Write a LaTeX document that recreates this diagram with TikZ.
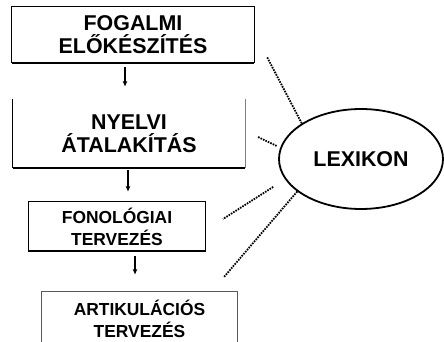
\documentclass[tikz,border=0pt]{standalone}
\usepackage{fontspec}
\setmainfont{Liberation Sans}
\usetikzlibrary{shapes.geometric,arrows.meta}

\begin{document}
\begin{tikzpicture}[x=1pt, y=-1pt,
    stage/.style={align=center, inner sep=0pt, font=\fontsize{21.4}{23}\selectfont\bfseries},
    smallstage/.style={stage, font=\fontsize{17.4}{22}\selectfont\bfseries},
    arr/.style={line width=1.6pt, -{Latex[length=5.5pt,width=5pt]}},
    dotline/.style={line width=1.8pt, dash pattern=on 1.6pt off 1.1pt}]
  \useasboundingbox (0,0) rectangle (444,342);
  \coordinate (bottom) at (0,342);

  \node [stage, minimum width=242pt, minimum height=56pt] (fogalmi) at (133,35) {FOGALMI\\ELŐKÉSZÍTÉS};
  \node [stage, minimum width=232pt, minimum height=69pt] (nyelvi) at (129,133.5) {NYELVI\\ÁTALAKÍTÁS};
  \node [smallstage, minimum width=176pt, minimum height=49pt] (fonologiai) at (117,226.5) {FONOLÓGIAI\\TERVEZÉS};
  \node [smallstage, minimum width=195pt, minimum height=53pt] (artikulacios) at (139.5,318.5) {ARTIKULÁCIÓS\\TERVEZÉS};
  \node [stage, ellipse, draw, line width=1.8pt, minimum width=164pt, minimum height=100pt] (lexikon) at (361,159) {LEXIKON};

  % box borders
  \draw [line width=1.2pt] (fogalmi.south west) -- (fogalmi.north west) -- (fogalmi.north east) -- (fogalmi.south east);
  \draw [line width=2.4pt] (fogalmi.south west) -- (fogalmi.south east);
  \draw [line width=1pt] (nyelvi.north west) -- (nyelvi.south west);
  \draw [line width=1pt, gray] (nyelvi.north east) -- (nyelvi.south east);
  \draw [line width=2.4pt] (nyelvi.south west) -- (nyelvi.south east);
  \draw [line width=1.2pt] (fonologiai.south west) rectangle (fonologiai.north east);
  \draw [line width=2.4pt] (fonologiai.south west) -- (fonologiai.south east);
  \draw [line width=1pt, gray!70!black] (artikulacios.west |- bottom) -- (artikulacios.north west) -- (artikulacios.north east) -- (artikulacios.east |- bottom);

  \draw [arr, shorten <=4pt, shorten >=12pt] ([xshift=-8pt]fogalmi.south) -- ([xshift=-8pt]fogalmi.south |- nyelvi.north);
  \draw [arr, shorten <=2pt, shorten >=10pt] ([xshift=-1pt]nyelvi.south) -- ([xshift=-1pt]nyelvi.south |- fonologiai.north);
  \draw [arr, shorten <=5pt, shorten >=17pt] ([xshift=18pt]fonologiai.south) -- ([xshift=18pt]fonologiai.south |- artikulacios.north);

  % dotted links to the lexicon
  \coordinate (d1) at (267,57);
  \coordinate (d2) at (258,137);
  \coordinate (d3) at (223,219);
  \coordinate (d4) at (224,277);
  \draw [dotline] (lexikon.149) -- (d1);
  \draw [dotline, shorten <=4pt] (lexikon.172) -- (d2);
  \draw [dotline, shorten <=14pt] (lexikon.195) -- (d3);
  \draw [dotline] (lexikon.207) -- (d4);
\end{tikzpicture}
\end{document}
